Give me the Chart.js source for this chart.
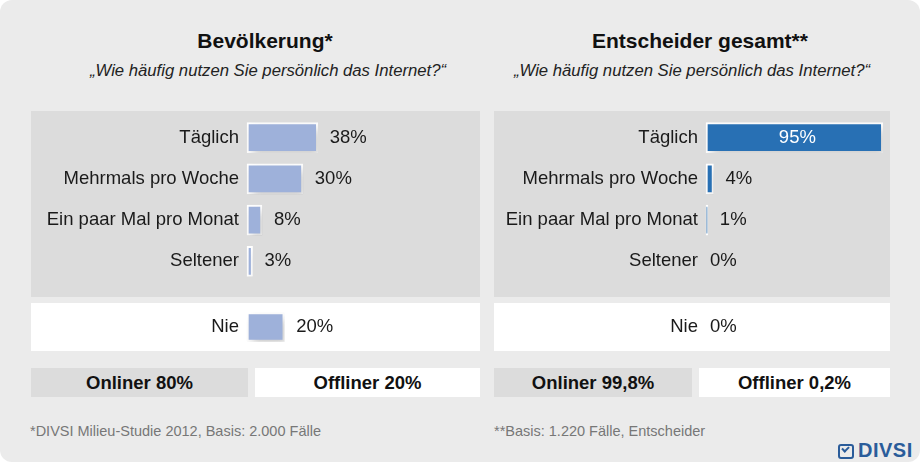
<!DOCTYPE html>
<html><head><meta charset="utf-8">
<script src="https://cdn.jsdelivr.net/npm/chart.js@4/dist/chart.umd.min.js"></script>
<style>
html,body{margin:0;padding:0;background:#fff;overflow:hidden;width:920px;height:462px;}
body{font-family:Arial,"Liberation Sans",sans-serif;position:relative;}
#panel{position:absolute;left:0;top:0;width:920px;height:462px;background:#ebebeb;border-radius:12px;}
.abs{position:absolute;}
.title{font-weight:bold;font-size:21px;color:#111;text-align:center;white-space:nowrap;}
.sub{font-style:italic;font-size:16.7px;color:#222;text-align:center;white-space:nowrap;}
.block{position:absolute;}
.sum{font-weight:bold;font-size:18.5px;color:#111;text-align:center;line-height:29px;}
.foot{font-size:14.5px;color:#777;white-space:nowrap;}
canvas{position:absolute;}
</style></head>
<body>
<div id="panel"></div>
<div class="abs title" style="left:65px;width:400px;top:29px;">Bevölkerung*</div>
<div class="abs sub" style="left:68px;width:400px;top:61px;">„Wie häufig nutzen Sie persönlich das Internet?“</div>
<div class="abs title" style="left:500px;width:400px;top:29px;">Entscheider gesamt**</div>
<div class="abs sub" style="left:492px;width:400px;top:61px;">„Wie häufig nutzen Sie persönlich das Internet?“</div>

<div class="block" style="left:31px;top:111px;width:449px;height:186px;background:#dcdcdc;"></div>
<div class="block" style="left:494px;top:111px;width:396px;height:186px;background:#dcdcdc;"></div>
<div class="block" style="left:31px;top:303px;width:449px;height:48px;background:#fff;"></div>
<div class="block" style="left:494px;top:303px;width:396px;height:48px;background:#fff;"></div>

<div class="block sum" style="left:31px;top:368px;width:217px;height:29px;background:#dcdcdc;" id="s0"></div>
<div class="block sum" style="left:255px;top:368px;width:225px;height:29px;background:#fff;" id="s1"></div>
<div class="block sum" style="left:494px;top:368px;width:198px;height:29px;background:#dcdcdc;" id="s2"></div>
<div class="block sum" style="left:699px;top:368px;width:191px;height:29px;background:#fff;" id="s3"></div>

<div class="abs foot" style="left:30px;top:423px;">*DIVSI Milieu-Studie 2012, Basis: 2.000 Fälle</div>
<div class="abs foot" style="left:494px;top:423px;">**Basis: 1.220 Fälle, Entscheider</div>

<div class="abs" style="left:838px;top:444px;width:12px;height:11px;border:2px solid #2a5c9a;border-radius:3px;"></div>
<div class="abs" style="left:842px;top:446px;width:5px;height:3px;border-left:2px solid #2a5c9a;border-bottom:2px solid #2a5c9a;transform:rotate(-45deg);"></div>
<div class="abs" style="left:858px;top:439px;font-weight:bold;font-size:20px;color:#2a5c9a;letter-spacing:0.5px;">DIVSI</div>

<canvas id="c1" style="left:31px;top:111px;width:470px;height:186px;"></canvas>
<canvas id="c2" style="left:31px;top:303px;width:470px;height:48px;"></canvas>
<canvas id="c3" style="left:494px;top:111px;width:470px;height:186px;"></canvas>
<canvas id="c4" style="left:494px;top:303px;width:470px;height:48px;"></canvas>

<script>
// ---- data ----
const categories = ["Täglich", "Mehrmals pro Woche", "Ein paar Mal pro Monat", "Seltener"];
const neverCategory = ["Nie"];
const bevoelkerungValues = [38, 30, 8, 3];
const bevoelkerungNie = [20];
const entscheiderValues = [95, 4, 1, 0];
const entscheiderNie = [0];
const summaryLabels = ["Onliner 80%", "Offliner 20%", "Onliner 99,8%", "Offliner 0,2%"];

["s0","s1","s2","s3"].forEach((id,i)=>{document.getElementById(id).textContent = summaryLabels[i];});

const FONT = "Arial, 'Liberation Sans', sans-serif";

const shadowPlugin = {
  id: 'barShadow',
  beforeDatasetsDraw(chart){
    const ctx = chart.ctx; ctx.save();
    ctx.shadowColor = 'rgba(0,0,0,0.2)';
    ctx.shadowBlur = 10; ctx.shadowOffsetX = 4; ctx.shadowOffsetY = 5;
  },
  afterDatasetsDraw(chart){ chart.ctx.restore(); }
};

const valueLabelPlugin = {
  id: 'valueLabels',
  afterDatasetsDraw(chart){
    const ctx = chart.ctx;
    const meta = chart.getDatasetMeta(0);
    const data = chart.data.datasets[0].data;
    ctx.save();
    ctx.font = "18.5px " + FONT;
    ctx.textBaseline = 'middle';
    meta.data.forEach((bar, i) => {
      const v = data[i];
      const txt = v + "%";
      if (v >= 50) {
        ctx.fillStyle = '#fff'; ctx.textAlign = 'center';
        ctx.fillText(txt, (bar.x + bar.base) / 2 + 3, bar.y);
      } else {
        ctx.fillStyle = '#1a1a1a'; ctx.textAlign = 'left';
        const off = v === 0 ? 4 : 12;
        ctx.fillText(txt, bar.x + off, bar.y);
      }
    });
    ctx.restore();
  }
};

function makeChart(id, labels, values, color, axisWidth, pad, thickness){
  new Chart(document.getElementById(id), {
    type: 'bar',
    data: { labels: labels, datasets: [{
      data: values,
      backgroundColor: color,
      borderColor: '#ffffff',
      borderWidth: 2,
      borderSkipped: false,
      barThickness: thickness,
      clip: false
    }]},
    options: {
      indexAxis: 'y',
      responsive: false,
      animation: false,
      devicePixelRatio: 1,
      layout: { padding: pad },
      plugins: { legend: { display: false }, tooltip: { enabled: false } },
      scales: {
        x: { display: false, min: 0, max: 100 },
        y: {
          afterFit: (s) => { s.width = axisWidth; s.paddingTop = 0; s.paddingBottom = 0; },
          grid: { display: false, drawTicks: false },
          border: { display: false },
          ticks: { color: '#1a1a1a', padding: 8, font: { size: 18.5, family: FONT } }
        }
      }
    },
    plugins: [shadowPlugin, valueLabelPlugin]
  });
}

function sizeCanvas(id, w, h){ const c = document.getElementById(id); c.width = w; c.height = h; }
sizeCanvas('c1', 470, 186); sizeCanvas('c2', 470, 48);
sizeCanvas('c3', 470, 186); sizeCanvas('c4', 470, 48);

const LEFT_COLOR = '#9eb1da', RIGHT_COLOR = '#2870b4';
makeChart('c1', categories, bevoelkerungValues, LEFT_COLOR, 216, {top:6, bottom:15, right:68, left:0}, 30);
makeChart('c2', neverCategory, bevoelkerungNie, LEFT_COLOR, 216, {top:4, bottom:4, right:68, left:0}, 29);
makeChart('c3', categories, entscheiderValues, RIGHT_COLOR, 212, {top:6, bottom:15, right:72, left:0}, 30);
makeChart('c4', neverCategory, entscheiderNie, RIGHT_COLOR, 212, {top:4, bottom:4, right:72, left:0}, 29);
</script>
</body></html>
